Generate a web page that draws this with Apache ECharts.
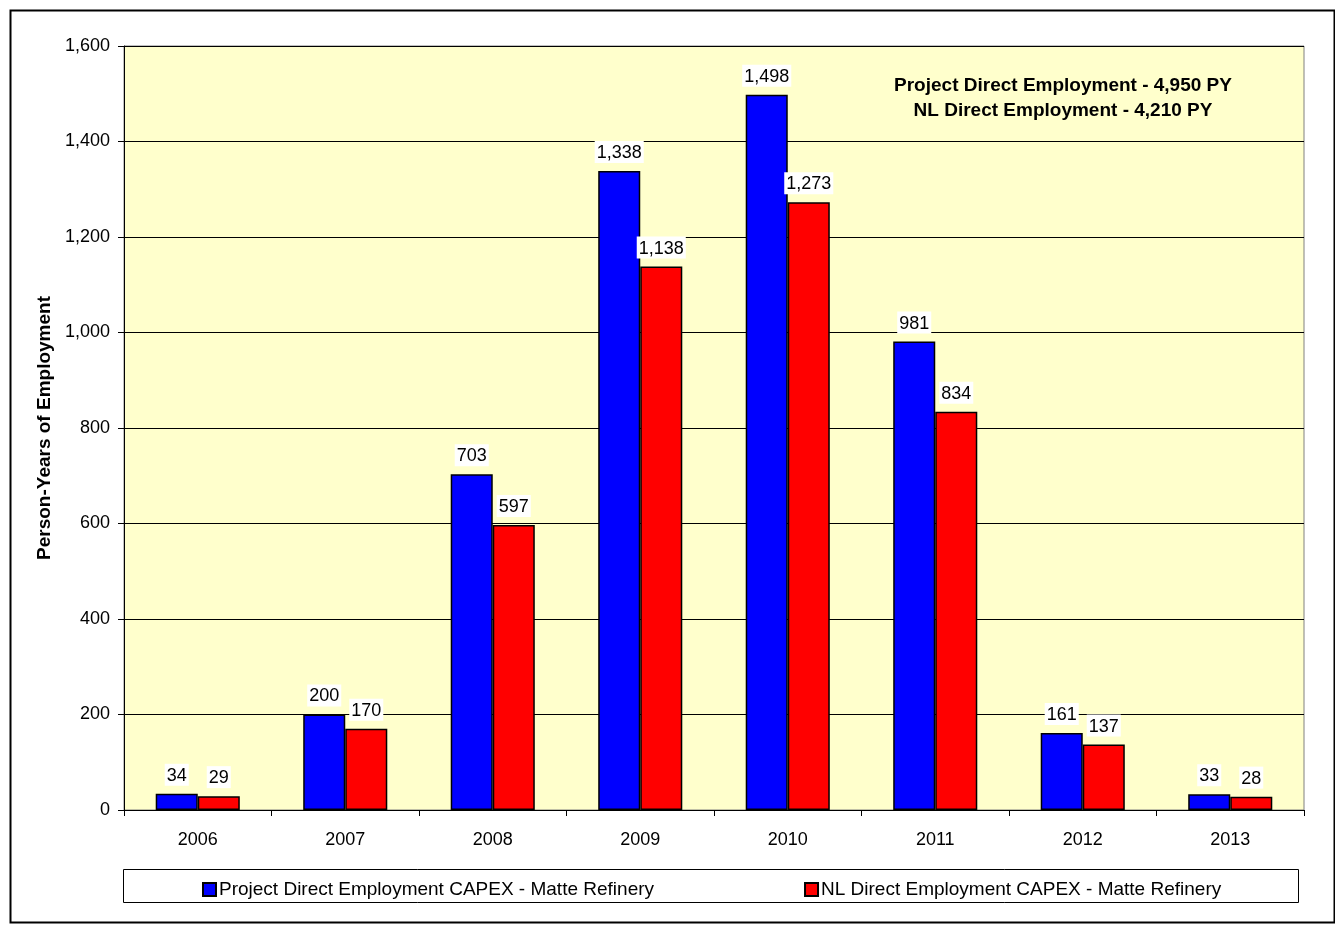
<!DOCTYPE html>
<html>
<head>
<meta charset="utf-8">
<script src="https://cdn.jsdelivr.net/npm/echarts@6/dist/echarts.min.js"></script>
<style>
  html, body { margin: 0; padding: 0; background: #fff; }
  #chart { width: 1335px; height: 929px; }
</style>
</head>
<body>
<div id="chart"></div>
<script>
const years = ['2006', '2007', '2008', '2009', '2010', '2011', '2012', '2013'];
const projectDirect = [34, 200, 703, 1338, 1498, 981, 161, 33];
const nlDirect = [29, 170, 597, 1138, 1273, 834, 137, 28];
const seriesNames = [
  'Project Direct Employment CAPEX - Matte Refinery',
  'NL Direct Employment CAPEX - Matte Refinery'
];
const noteLines = [
  'Project Direct Employment - 4,950 PY',
  'NL Direct Employment - 4,210 PY'
];

const chart = echarts.init(document.getElementById('chart'));
const font = 'Arial, "Liberation Sans", sans-serif';

const fmt = v => v.toLocaleString('en-US');

const labelStyle = {
  show: true,
  position: 'top',
  distance: 8,
  color: '#000',
  fontFamily: font,
  fontSize: 18,
  backgroundColor: '#fff',
  padding: [3, 2, 1, 2],
  formatter: p => fmt(p.value)
};

const option = {
  animation: false,
  textStyle: { fontFamily: font },
  grid: {
    left: 124,
    right: 31,
    top: 46,
    bottom: 119,
    show: true,
    backgroundColor: '#ffffcc',
    borderColor: '#808080',
    borderWidth: 1
  },
  legend: {
    left: 197,
    top: 875,
    itemGap: 150,
    itemWidth: 13,
    itemHeight: 13,
    icon: 'rect',
    textStyle: { fontFamily: font, fontSize: 19, color: '#000', padding: [0, 0, 0, -2] },
    data: seriesNames
  },
  xAxis: {
    type: 'category',
    data: years,
    axisLine: { lineStyle: { color: '#000', width: 1 } },
    axisTick: { show: true, length: 6, lineStyle: { color: '#000' } },
    axisLabel: { color: '#000', fontFamily: font, fontSize: 18, margin: 21 }
  },
  yAxis: {
    type: 'value',
    min: 0,
    max: 1600,
    interval: 200,
    name: 'Person-Years of Employment',
    nameLocation: 'middle',
    nameGap: 68,
    nameTextStyle: { color: '#000', fontFamily: font, fontSize: 19, fontWeight: 'bold' },
    axisLine: { show: true, lineStyle: { color: '#000', width: 1 } },
    axisTick: { show: true, length: 6, lineStyle: { color: '#000' } },
    axisLabel: { color: '#000', fontFamily: font, fontSize: 18, margin: 14, formatter: v => fmt(v) },
    splitLine: { lineStyle: { color: '#000', width: 1 } }
  },
  series: [
    {
      name: seriesNames[0],
      type: 'bar',
      data: projectDirect,
      barGap: '0%',
      barCategoryGap: '43%',
      itemStyle: { color: '#0000ff', borderColor: '#000', borderWidth: 1.5 },
      label: labelStyle
    },
    {
      name: seriesNames[1],
      type: 'bar',
      data: nlDirect,
      itemStyle: { color: '#ff0000', borderColor: '#000', borderWidth: 1.5 },
      label: labelStyle
    }
  ],
  graphic: [
    {
      type: 'rect',
      left: 8, top: 8,
      shape: { width: 1324, height: 912 },
      style: { fill: 'none', stroke: '#000', lineWidth: 2 },
      silent: true, z: -10
    },
    {
      type: 'rect',
      left: 123, top: 869,
      shape: { width: 1175, height: 33 },
      style: { fill: '#fff', stroke: '#000', lineWidth: 1 },
      silent: true, z: -5
    },
    {
      type: 'text',
      x: 1063, y: 73,
      style: {
        text: noteLines.join('\n'),
        font: 'bold 19px ' + font,
        fill: '#000',
        align: 'center',
        lineHeight: 25
      },
      silent: true
    }
  ]
};

chart.setOption(option);
</script>
</body>
</html>
